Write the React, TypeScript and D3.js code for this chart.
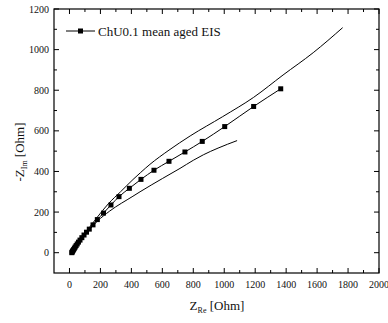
import { useRef, useEffect } from 'react';
import * as d3 from 'd3';

// mean aged EIS (markers)
const meanRe = [15, 17, 20, 23, 27, 32, 37, 43, 50, 58, 68, 80, 94, 110, 128, 152, 180, 220, 268, 320, 387, 462, 546, 643, 746, 858, 1003, 1190, 1365];
const meanIm = [0, 3, 7, 11, 16, 22, 28, 35, 43, 52, 62, 74, 87, 101, 116, 137, 163, 195, 235, 276, 317, 361, 406, 450, 496, 548, 621, 720, 807];

// upper envelope
const upperRe = [15, 60, 120, 180, 250, 330, 410, 460, 520, 643, 780, 990, 1190, 1380, 1575, 1765];
const upperIm = [0, 50, 115, 175, 240, 300, 360, 395, 435, 505, 575, 670, 765, 875, 985, 1108];

// lower envelope
const lowerRe = [15, 60, 120, 180, 260, 410, 456, 600, 714, 800, 865, 960, 1083];
const lowerIm = [0, 48, 105, 155, 205, 278, 300, 365, 415, 455, 482, 515, 552];

const xTicks = [0, 200, 400, 600, 800, 1000, 1200, 1400, 1600, 1800, 2000];
const yTicks = [0, 200, 400, 600, 800, 1000, 1200];

const W = 388;
const H = 323;
const FONT = "'Liberation Serif', 'Times New Roman', serif";

export default function App() {
  const svgRef = useRef<SVGSVGElement>(null);

  useEffect(() => {
    if (!svgRef.current) return;
    const svg = d3.select(svgRef.current);
    svg.selectAll('*').remove();

    const left = 54, right = 379, top = 9, bottom = 273;
    const x = d3.scaleLinear().domain([-100, 2000]).range([left, right]);
    const y = d3.scaleLinear().domain([-100, 1200]).range([bottom, top]);

    const minorX = d3.range(100, 2000, 200);
    const minorY = d3.range(100, 1200, 200);

    // frame
    svg.append('rect')
      .attr('x', left).attr('y', top)
      .attr('width', right - left).attr('height', bottom - top)
      .attr('fill', 'none').attr('stroke', '#000').attr('stroke-width', 1.2);

    const tickG = svg.append('g').attr('stroke', '#000').attr('stroke-width', 1);
    xTicks.forEach((t) => {
      tickG.append('line').attr('x1', x(t)).attr('x2', x(t)).attr('y1', bottom).attr('y2', bottom - 5);
      tickG.append('line').attr('x1', x(t)).attr('x2', x(t)).attr('y1', top).attr('y2', top + 5);
    });
    minorX.forEach((t) => {
      tickG.append('line').attr('x1', x(t)).attr('x2', x(t)).attr('y1', bottom).attr('y2', bottom - 3);
      tickG.append('line').attr('x1', x(t)).attr('x2', x(t)).attr('y1', top).attr('y2', top + 3);
    });
    yTicks.forEach((t) => {
      tickG.append('line').attr('x1', left).attr('x2', left + 5).attr('y1', y(t)).attr('y2', y(t));
      tickG.append('line').attr('x1', right).attr('x2', right - 5).attr('y1', y(t)).attr('y2', y(t));
    });
    minorY.forEach((t) => {
      tickG.append('line').attr('x1', left).attr('x2', left + 3).attr('y1', y(t)).attr('y2', y(t));
      tickG.append('line').attr('x1', right).attr('x2', right - 3).attr('y1', y(t)).attr('y2', y(t));
    });

    // tick labels
    svg.append('g').selectAll('text').data(xTicks).enter().append('text')
      .attr('x', (d) => x(d)).attr('y', bottom + 15)
      .attr('text-anchor', 'middle')
      .attr('font-size', 10).attr('fill', '#111')
      .text((d) => d);
    svg.append('g').selectAll('text').data(yTicks).enter().append('text')
      .attr('x', left - 5).attr('y', (d) => y(d)).attr('dy', '0.35em')
      .attr('text-anchor', 'end')
      .attr('font-size', 10).attr('fill', '#111')
      .text((d) => d);

    // curves
    const line = d3.line<[number, number]>()
      .x((d) => x(d[0]))
      .y((d) => y(d[1]))
      .curve(d3.curveMonotoneX);

    const upper = upperRe.map((v, i) => [v, upperIm[i]] as [number, number]);
    const lower = lowerRe.map((v, i) => [v, lowerIm[i]] as [number, number]);
    const mean = meanRe.map((v, i) => [v, meanIm[i]] as [number, number]);

    [upper, lower, mean].forEach((pts) => {
      svg.append('path').attr('d', line(pts)).attr('fill', 'none')
        .attr('stroke', '#000').attr('stroke-width', 1);
    });

    const ms = 5;
    svg.append('g').selectAll('rect').data(mean).enter().append('rect')
      .attr('x', (d) => x(d[0]) - ms / 2).attr('y', (d) => y(d[1]) - ms / 2)
      .attr('width', ms).attr('height', ms).attr('fill', '#000');

    // legend
    const ly = 31;
    svg.append('line').attr('x1', 66).attr('x2', 95).attr('y1', ly).attr('y2', ly)
      .attr('stroke', '#000').attr('stroke-width', 1);
    svg.append('rect').attr('x', 80.5 - ms / 2).attr('y', ly - ms / 2)
      .attr('width', ms).attr('height', ms).attr('fill', '#000');
    svg.append('text').attr('x', 98).attr('y', ly).attr('dy', '0.35em')
      .attr('font-size', 13).attr('fill', '#111')
      .text('ChU0.1 mean aged EIS');

    // axis titles
    const xt = svg.append('text').attr('x', 217).attr('y', 310)
      .attr('text-anchor', 'middle')
      .attr('font-size', 13).attr('fill', '#111');
    xt.append('tspan').text('Z');
    xt.append('tspan').attr('font-size', 8).attr('dy', 3).text('Re');
    xt.append('tspan').attr('dy', -3).text(' [Ohm]');

    const yt = svg.append('text')
      .attr('transform', `translate(24,152) rotate(-90)`)
      .attr('text-anchor', 'middle')
      .attr('font-size', 13).attr('fill', '#111');
    yt.append('tspan').text('-Z');
    yt.append('tspan').attr('font-size', 8).attr('dy', 3).text('Im');
    yt.append('tspan').attr('dy', -3).text(' [Ohm]');
  }, []);

  return (
    <svg
      ref={svgRef}
      width={W}
      height={H}
      fontFamily={FONT}
      style={{ position: 'absolute', left: 0, top: 0, background: '#fff', fontFamily: FONT }}
    />
  );
}
